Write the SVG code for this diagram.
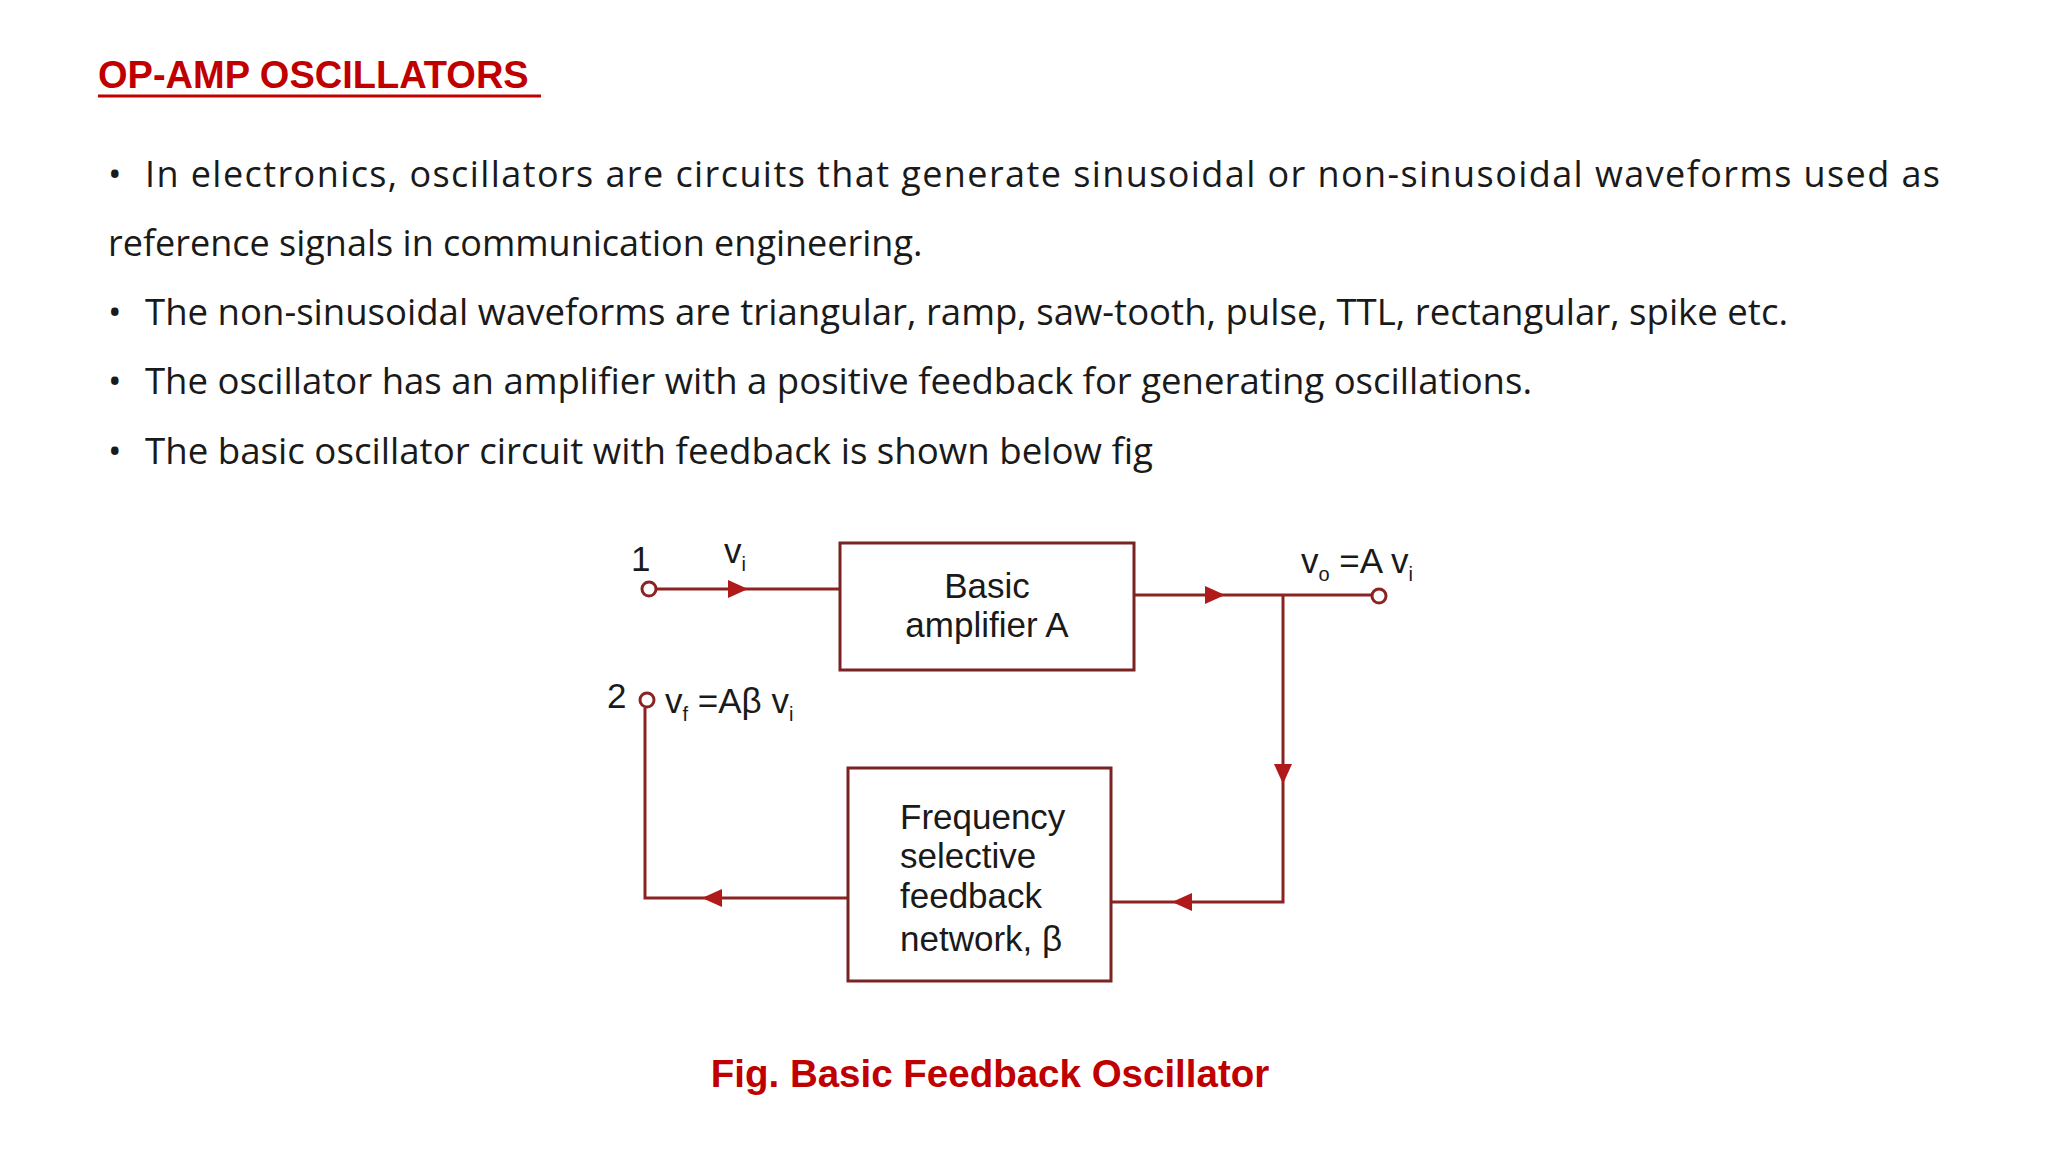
<svg xmlns="http://www.w3.org/2000/svg" width="2048" height="1152" viewBox="0 0 2048 1152">
<style>
.b{font-family:"Open Sans","Noto Sans",sans-serif;font-size:36px;fill:#1a1a1a}
.d{font-family:"Liberation Sans",Arial,sans-serif;font-size:35px;fill:#1a1a1a}
.s{font-family:"Liberation Sans",Arial,sans-serif;font-size:20px;fill:#1a1a1a}
.w{fill:none;stroke:#8b2323;stroke-width:3}
.box{fill:#fff;stroke:#7a2323;stroke-width:3}
.r{font-family:"Liberation Sans",Arial,sans-serif;font-weight:bold;fill:#c00000}
</style>
<defs><path id="ah" d="M-10,-9 L10,0 L-10,9 Z" fill="#b01a1a"/></defs>
<rect width="2048" height="1152" fill="#fff"/>
<text class="r" x="98" y="88" font-size="38">OP-AMP OSCILLATORS</text>
<line x1="98" y1="96" x2="541" y2="96" stroke="#c00000" stroke-width="3"/>
<g id="bullets">
<text class="b" x="108" y="187">•</text>
<text class="b" x="145" y="187" textLength="1795" lengthAdjust="spacing">In electronics, oscillators are circuits that generate sinusoidal or non-sinusoidal waveforms used as</text>
<text class="b" x="108" y="256">reference signals in communication engineering.</text>
<text class="b" x="108" y="325">•</text>
<text class="b" x="145" y="325" textLength="1643" lengthAdjust="spacingAndGlyphs">The non-sinusoidal waveforms are triangular, ramp, saw-tooth, pulse, TTL, rectangular, spike etc.</text>
<text class="b" x="108" y="394">•</text>
<text class="b" x="145" y="394" textLength="1387" lengthAdjust="spacingAndGlyphs">The oscillator has an amplifier with a positive feedback for generating oscillations.</text>
<text class="b" x="108" y="464">•</text>
<text class="b" x="145" y="464" textLength="1008" lengthAdjust="spacingAndGlyphs">The basic oscillator circuit with feedback is shown below fig</text>
</g>
<g id="connectors">
<line class="w" x1="657" y1="589" x2="840" y2="589"/>
<use href="#ah" x="738" y="589"/>
<line class="w" x1="1134" y1="595" x2="1371" y2="595"/>
<use href="#ah" x="1215" y="595"/>
<polyline class="w" points="1283,595 1283,902 1111,902"/>
<use href="#ah" transform="translate(1283,774) rotate(90)"/>
<use href="#ah" transform="translate(1182,902) rotate(180)"/>
<polyline class="w" points="848,898 645,898 645,708"/>
<use href="#ah" transform="translate(712,898) rotate(180)"/>
<circle cx="649" cy="589" r="7" fill="#fff" stroke="#8b2323" stroke-width="3"/>
<circle cx="1379" cy="596" r="7" fill="#fff" stroke="#8b2323" stroke-width="3"/>
<circle cx="647" cy="700" r="7" fill="#fff" stroke="#8b2323" stroke-width="3"/>
</g>
<g id="amp">
<rect class="box" x="840" y="543" width="294" height="127"/>
<text class="d" x="987" y="598" text-anchor="middle">Basic</text>
<text class="d" x="987" y="637" text-anchor="middle">amplifier A</text>
</g>
<g id="feedback">
<rect class="box" x="848" y="768" width="263" height="213"/>
<text class="d" x="900" y="829">Frequency</text>
<text class="d" x="900" y="868">selective</text>
<text class="d" x="900" y="908">feedback</text>
<text class="d" x="900" y="951">network, β</text>
</g>
<g id="labels">
<text class="d" x="631" y="571">1</text>
<text class="d" x="724" y="563">v<tspan class="s" dy="8">i</tspan></text>
<text class="d" x="1301" y="573">v<tspan class="s" dy="8">o</tspan><tspan dy="-8"> =A v</tspan><tspan class="s" dy="8">i</tspan></text>
<text class="d" x="607" y="708">2</text>
<text class="d" x="665" y="713">v<tspan class="s" dy="8">f</tspan><tspan dy="-8"> =Aβ v</tspan><tspan class="s" dy="8">i</tspan></text>
</g>
<text class="r" x="990" y="1087" font-size="38.5" text-anchor="middle">Fig. Basic Feedback Oscillator</text>
</svg>
